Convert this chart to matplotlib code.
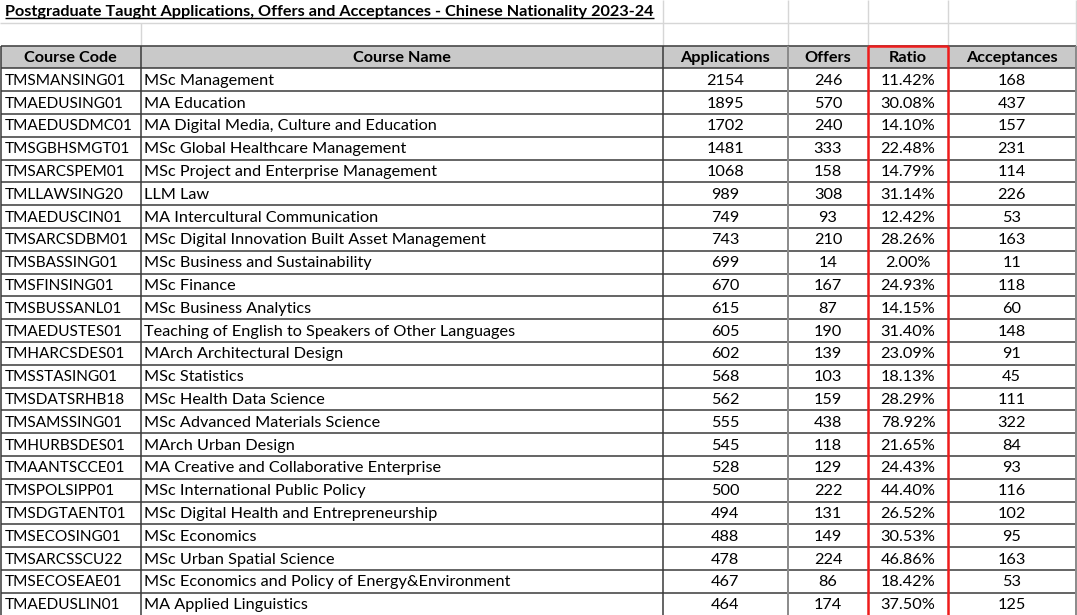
import matplotlib.pyplot as plt
from matplotlib.patches import Rectangle

plt.rcParams['font.family'] = ['Lato', 'DejaVu Sans']

title = 'Postgraduate Taught Applications, Offers and Acceptances - Chinese Nationality 2023-24'
headers = ['Course Code', 'Course Name', 'Applications', 'Offers', 'Ratio', 'Acceptances']

codes = ['TMSMANSING01', 'TMAEDUSING01', 'TMAEDUSDMC01', 'TMSGBHSMGT01', 'TMSARCSPEM01',
         'TMLLAWSING20', 'TMAEDUSCIN01', 'TMSARCSDBM01', 'TMSBASSING01', 'TMSFINSING01',
         'TMSBUSSANL01', 'TMAEDUSTES01', 'TMHARCSDES01', 'TMSSTASING01', 'TMSDATSRHB18',
         'TMSAMSSING01', 'TMHURBSDES01', 'TMAANTSCCE01', 'TMSPOLSIPP01', 'TMSDGTAENT01',
         'TMSECOSING01', 'TMSARCSSCU22', 'TMSECOSEAE01', 'TMAEDUSLIN01']
names = ['MSc Management', 'MA Education', 'MA Digital Media, Culture and Education',
         'MSc Global Healthcare Management', 'MSc Project and Enterprise Management',
         'LLM Law', 'MA Intercultural Communication', 'MSc Digital Innovation Built Asset Management',
         'MSc Business and Sustainability', 'MSc Finance', 'MSc Business Analytics',
         'Teaching of English to Speakers of Other Languages', 'MArch Architectural Design',
         'MSc Statistics', 'MSc Health Data Science', 'MSc Advanced Materials Science',
         'MArch Urban Design', 'MA Creative and Collaborative Enterprise',
         'MSc International Public Policy', 'MSc Digital Health and Entrepreneurship',
         'MSc Economics', 'MSc Urban Spatial Science',
         'MSc Economics and Policy of Energy&Environment', 'MA Applied Linguistics']
applications = [2154, 1895, 1702, 1481, 1068, 989, 749, 743, 699, 670, 615, 605,
                602, 568, 562, 555, 545, 528, 500, 494, 488, 478, 467, 464]
offers = [246, 570, 240, 333, 158, 308, 93, 210, 14, 167, 87, 190,
          139, 103, 159, 438, 118, 129, 222, 131, 149, 224, 86, 174]
acceptances = [168, 437, 157, 231, 114, 226, 53, 163, 11, 118, 60, 148,
               91, 45, 111, 322, 84, 93, 116, 102, 95, 163, 53, 125]
ratios = ['{:.2f}%'.format(100 * o / a) for o, a in zip(offers, applications)]

# layout in pixels
W, H = 1077, 615
col_x = [1, 140.5, 662.5, 788, 868, 948, 1075.5]
row_h = 22.8
head_top = 2 * row_h
head_bot = 3 * row_h
fs = 11.7
fs_code = 11.1

fig = plt.figure(figsize=(W / 100, H / 100), dpi=100)
ax = fig.add_axes([0, 0, 1, 1])
ax.set_xlim(0, W)
ax.set_ylim(H, 0)
ax.axis('off')

light = '#d6d6d6'
dark = '#3a3a3a'
mid = '#8a8a8a'

# excel gridlines in the top two rows
ax.hlines([row_h, head_top], 0, W, color=light, lw=1)
ax.vlines(col_x[1], row_h, head_top, color=light, lw=1)
ax.vlines(col_x[2:], 0, head_top, color=light, lw=1)

# header
ax.add_patch(Rectangle((col_x[0], head_top), col_x[-1] - col_x[0], row_h,
                       facecolor='#c9c9c9', edgecolor='none'))
for i, h in enumerate(headers):
    ax.text((col_x[i] + col_x[i + 1]) / 2, head_top + row_h / 2 + 1, h,
            ha='center', va='center', fontsize=fs, fontweight='bold', color='black')

# rows
n = len(codes)
for r in range(n):
    yc = head_bot + (r + 0.5) * row_h + 1
    ax.text(col_x[0] + 4, yc, codes[r], ha='left', va='center', fontsize=fs_code)
    ax.text(col_x[1] + 4, yc, names[r], ha='left', va='center', fontsize=fs)
    vals = [applications[r], offers[r], ratios[r], acceptances[r]]
    for j, v in enumerate(vals):
        ax.text((col_x[j + 2] + col_x[j + 3]) / 2, yc, str(v),
                ha='center', va='center', fontsize=fs)

bottom = H + 5
ys = [head_top, head_bot] + [head_bot + (r + 1) * row_h for r in range(n)]
ax.hlines(ys, col_x[0], col_x[-1], color=dark, lw=1.1)
ax.vlines([col_x[0], col_x[1], col_x[2]], head_top, bottom, color=dark, lw=1.1)
ax.vlines([col_x[3], col_x[-1]], head_top, bottom, color=mid, lw=1.4)

# red box round the ratio column
ax.vlines([col_x[4], col_x[5]], head_top, bottom, color='#ee1c1c', lw=1.8)
ax.hlines(head_top, col_x[4], col_x[5], color='#ee1c1c', lw=1.8)

# underlined bold title
t = ax.text(5, row_h / 2 + 1, title, ha='left', va='center', fontsize=fs, fontweight='bold')
fig.canvas.draw()
bb = t.get_window_extent().transformed(ax.transData.inverted())
ax.hlines(max(bb.y0, bb.y1) - 1, bb.x0, bb.x1, color='black', lw=1)

fig.savefig('out.png', dpi=100)
